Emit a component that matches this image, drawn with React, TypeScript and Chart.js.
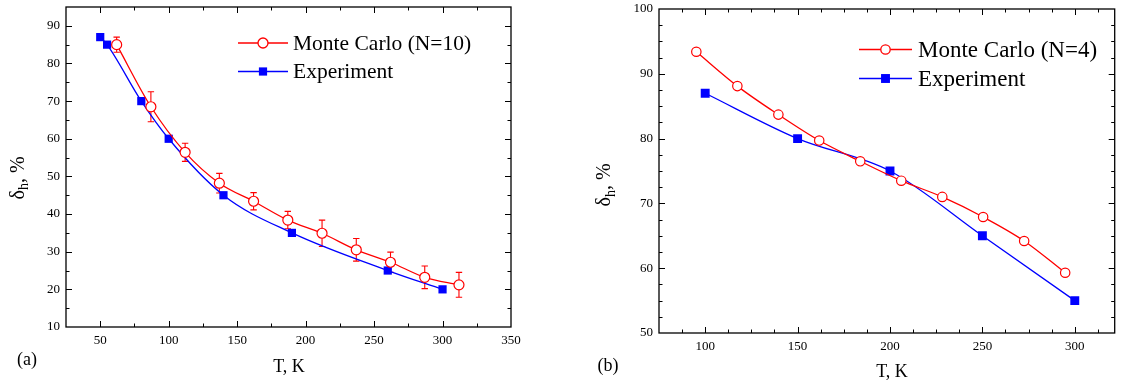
import React, { useEffect, useRef } from 'react';
import { Chart, registerables } from 'chart.js';
Chart.register(...registerables);

const FONT = "'Liberation Serif', 'Times New Roman', serif";
const H = 385;

// ---------- Panel (a) data ----------
const mcTempA = [62, 87, 112, 137, 162, 187, 212, 237, 262, 287, 312];
const mcValA = [85, 68.5, 56.4, 48.2, 43.4, 38.4, 34.9, 30.5, 27.2, 23.2, 21.2];
const mcErrA = [2, 4, 2.4, 2.6, 2.3, 2.3, 3.5, 3, 2.7, 3, 3.3];
const expTempA = [50, 55, 80, 100, 140, 190, 260, 300];
const expValA = [87, 85, 70, 60, 45, 35, 25, 20];

// ---------- Panel (b) data ----------
const mcTempB = [95.2, 117.4, 139.6, 161.7, 183.9, 206.1, 228.3, 250.4, 272.6, 294.8];
const mcValB = [93.4, 88.1, 83.7, 79.7, 76.5, 73.5, 71.0, 67.9, 64.2, 59.3];
const expTempB = [100, 150, 200, 250, 300];
const expValB = [87, 80, 75, 65, 55];

const xLabelsA = [50, 100, 150, 200, 250, 300, 350];
const yLabelsA = [10, 20, 30, 40, 50, 60, 70, 80, 90];
const xLabelsB = [100, 150, 200, 250, 300];
const yLabelsB = [50, 60, 70, 80, 90, 100];

const RED = '#ff0000';
const BLUE = '#0000ff';

type Cfg = {
  offset: number;
  W: number;
  xMin: number; xMax: number; yMin: number; yMax: number;
  xMajor: number; xMinor: number; yMajor: number; yMinor: number;
  xLabels: number[]; yLabels: number[];
  area: { left: number; top: number; right: number; bottom: number };
  mcLabel: string;
  mcX: number[]; mcY: number[]; mcErr?: number[];
  exX: number[]; exY: number[];
  circR: number; sqR: number;
  legend: { x0: number; x1: number; y1: number; y2: number; tx: number; size: number };
  tag: string; tagX: number; tagY: number;
  xtX: number; xtY: number;
  ytX: number; ytY: number;
};

const cfgA: Cfg = {
  offset: 0, W: 560,
  xMin: 25, xMax: 350, yMin: 10, yMax: 95,
  xMajor: 50, xMinor: 25, yMajor: 10, yMinor: 5,
  xLabels: xLabelsA, yLabels: yLabelsA,
  area: { left: 66, top: 7, right: 511, bottom: 327 },
  mcLabel: 'Monte Carlo (N=10)',
  mcX: mcTempA, mcY: mcValA, mcErr: mcErrA,
  exX: expTempA, exY: expValA,
  circR: 5, sqR: 5.8,
  legend: { x0: 238, x1: 288, y1: 43, y2: 71.5, tx: 293, size: 21.5 },
  tag: '(a)', tagX: 27, tagY: 360,
  xtX: 289, xtY: 367,
  ytX: 23.5, ytY: 178,
};

const cfgB: Cfg = {
  offset: 560, W: 561,
  xMin: 75, xMax: 321.6, yMin: 50, yMax: 100,
  xMajor: 50, xMinor: 12.5, yMajor: 10, yMinor: 2.5,
  xLabels: xLabelsB, yLabels: yLabelsB,
  area: { left: 99, top: 9, right: 557, bottom: 333 },
  mcLabel: 'Monte Carlo (N=4)',
  mcX: mcTempB, mcY: mcValB,
  exX: expTempB, exY: expValB,
  circR: 4.7, sqR: 6.3,
  legend: { x0: 299, x1: 352, y1: 49.5, y2: 78.5, tx: 358, size: 23 },
  tag: '(b)', tagX: 48, tagY: 366,
  xtX: 332, xtY: 372,
  ytX: 50, ytY: 185,
};

function makePlugin(cfg: Cfg) {
  return {
    id: 'decor',
    beforeDatasetsDraw(chart: any) {
      if (!cfg.mcErr) return;
      const { ctx, scales } = chart;
      const x = scales.x, y = scales.y;
      ctx.save();
      ctx.strokeStyle = RED;
      ctx.lineWidth = 1.1;
      cfg.mcX.forEach((t, i) => {
        const e = cfg.mcErr![i];
        const px = x.getPixelForValue(t);
        const pt = y.getPixelForValue(cfg.mcY[i] + e);
        const pb = y.getPixelForValue(cfg.mcY[i] - e);
        ctx.beginPath();
        ctx.moveTo(px, pt); ctx.lineTo(px, pb);
        ctx.moveTo(px - 3.2, pt); ctx.lineTo(px + 3.2, pt);
        ctx.moveTo(px - 3.2, pb); ctx.lineTo(px + 3.2, pb);
        ctx.stroke();
      });
      ctx.restore();
    },
    afterDraw(chart: any) {
      const { ctx, chartArea: a, scales } = chart;
      const x = scales.x, y = scales.y;
      ctx.save();
      ctx.strokeStyle = '#000';
      ctx.lineWidth = 1.3;
      ctx.strokeRect(a.left, a.top, a.right - a.left, a.bottom - a.top);
      ctx.lineWidth = 1;
      const seg = (x1: number, y1: number, x2: number, y2: number) => {
        ctx.beginPath(); ctx.moveTo(x1, y1); ctx.lineTo(x2, y2); ctx.stroke();
      };
      const isMajor = (v: number, m: number) => Math.abs(v / m - Math.round(v / m)) < 1e-6;
      for (let v = Math.ceil(cfg.xMin / cfg.xMinor) * cfg.xMinor; v <= cfg.xMax + 1e-9; v += cfg.xMinor) {
        const px = Math.round(x.getPixelForValue(v)) + 0.5;
        if (px <= a.left + 1 || px >= a.right - 1) continue;
        const len = isMajor(v, cfg.xMajor) ? 6 : 3.5;
        seg(px, a.bottom, px, a.bottom - len);
        seg(px, a.top, px, a.top + len);
      }
      for (let v = Math.ceil(cfg.yMin / cfg.yMinor) * cfg.yMinor; v <= cfg.yMax + 1e-9; v += cfg.yMinor) {
        const py = Math.round(y.getPixelForValue(v)) + 0.5;
        if (py <= a.top + 1 || py >= a.bottom - 1) continue;
        const len = isMajor(v, cfg.yMajor) ? 6 : 3.5;
        seg(a.left, py, a.left + len, py);
        seg(a.right, py, a.right - len, py);
      }

      // legend
      const L = cfg.legend;
      const mid = (L.x0 + L.x1) / 2;
      ctx.lineWidth = 1.3;
      ctx.strokeStyle = RED;
      seg(L.x0, L.y1, L.x1, L.y1);
      ctx.beginPath();
      ctx.arc(mid, L.y1, cfg.circR, 0, Math.PI * 2);
      ctx.fillStyle = '#fff'; ctx.fill(); ctx.stroke();
      ctx.strokeStyle = BLUE;
      seg(L.x0, L.y2, L.x1, L.y2);
      const s = cfg.sqR * Math.SQRT1_2;
      ctx.fillStyle = BLUE;
      ctx.fillRect(mid - s, L.y2 - s, 2 * s, 2 * s);
      ctx.fillStyle = '#000';
      ctx.font = `${L.size}px ${FONT}`;
      ctx.textAlign = 'left';
      ctx.textBaseline = 'middle';
      ctx.fillText(cfg.mcLabel, L.tx, L.y1 + 1);
      ctx.fillText('Experiment', L.tx, L.y2 + 1);

      // tag and x title
      ctx.textAlign = 'center';
      ctx.font = `18px ${FONT}`;
      ctx.fillText(cfg.tag, cfg.tagX, cfg.tagY);
      ctx.fillText('T, K', cfg.xtX, cfg.xtY);

      // y title with subscript
      ctx.translate(cfg.ytX, cfg.ytY);
      ctx.rotate(-Math.PI / 2);
      ctx.textAlign = 'left';
      ctx.textBaseline = 'alphabetic';
      const big = `20px ${FONT}`;
      const small = `14px ${FONT}`;
      ctx.font = big;
      const w1 = ctx.measureText('\u03b4').width;
      const w3 = ctx.measureText(', %').width;
      ctx.font = small;
      const w2 = ctx.measureText('h').width;
      let cx = -(w1 + w2 + w3) / 2;
      ctx.font = big;
      ctx.fillText('\u03b4', cx, 0);
      cx += w1;
      ctx.font = small;
      ctx.fillText('h', cx, 4.5);
      cx += w2;
      ctx.font = big;
      ctx.fillText(', %', cx, 0);
      ctx.restore();
    },
  };
}

function Panel({ cfg }: { cfg: Cfg }) {
  const ref = useRef<HTMLCanvasElement>(null);
  useEffect(() => {
    const canvas = ref.current!;
    const tickFont = { family: FONT, size: 13 };
    const zeroPad = (s: any) => {
      s.paddingTop = 0; s.paddingBottom = 0; s.paddingLeft = 0; s.paddingRight = 0;
    };
    const chart = new Chart(canvas, {
      type: 'line',
      data: {
        datasets: [
          {
            label: cfg.mcLabel,
            data: cfg.mcX.map((t, i) => ({ x: t, y: cfg.mcY[i] })),
            borderColor: RED,
            backgroundColor: '#ffffff',
            borderWidth: 1.3,
            pointStyle: 'circle',
            pointRadius: cfg.circR,
            pointBorderWidth: 1.2,
            pointBorderColor: RED,
            pointBackgroundColor: '#ffffff',
            cubicInterpolationMode: 'monotone',
            fill: false,
          },
          {
            label: 'Experiment',
            data: cfg.exX.map((t, i) => ({ x: t, y: cfg.exY[i] })),
            borderColor: BLUE,
            backgroundColor: BLUE,
            borderWidth: 1.3,
            pointStyle: 'rect',
            pointRadius: cfg.sqR,
            pointBorderWidth: 0,
            pointBackgroundColor: BLUE,
            cubicInterpolationMode: 'monotone',
            fill: false,
          },
        ],
      },
      options: {
        animation: false,
        responsive: false,
        maintainAspectRatio: false,
        layout: {
          padding: { left: 0, top: cfg.area.top, right: cfg.W - cfg.area.right, bottom: 0 },
        },
        plugins: { legend: { display: false }, tooltip: { enabled: false } },
        scales: {
          x: {
            type: 'linear',
            min: cfg.xMin,
            max: cfg.xMax,
            grid: { display: false, drawTicks: false },
            border: { display: false },
            ticks: { stepSize: cfg.xMajor, font: tickFont, color: '#000', padding: 6, maxRotation: 0, autoSkip: false },
            afterBuildTicks: (s: any) => { s.ticks = cfg.xLabels.map((v) => ({ value: v })); },
            afterFit: (s: any) => { s.height = H - cfg.area.bottom; zeroPad(s); },
          },
          y: {
            type: 'linear',
            min: cfg.yMin,
            max: cfg.yMax,
            grid: { display: false, drawTicks: false },
            border: { display: false },
            ticks: { stepSize: cfg.yMajor, font: tickFont, color: '#000', padding: 6, autoSkip: false },
            afterBuildTicks: (s: any) => { s.ticks = cfg.yLabels.map((v) => ({ value: v })); },
            afterFit: (s: any) => { s.width = cfg.area.left; zeroPad(s); },
          },
        },
      },
      plugins: [makePlugin(cfg)],
    } as any);
    return () => chart.destroy();
  }, [cfg]);
  return (
    <canvas
      ref={ref}
      width={cfg.W}
      height={H}
      style={{ position: 'absolute', left: cfg.offset, top: 0, width: cfg.W, height: H }}
    />
  );
}

export default function App() {
  return (
    <div style={{ position: 'fixed', left: 0, top: 0, width: 1121, height: H, background: '#fff' }}>
      <Panel cfg={cfgA} />
      <Panel cfg={cfgB} />
    </div>
  );
}
